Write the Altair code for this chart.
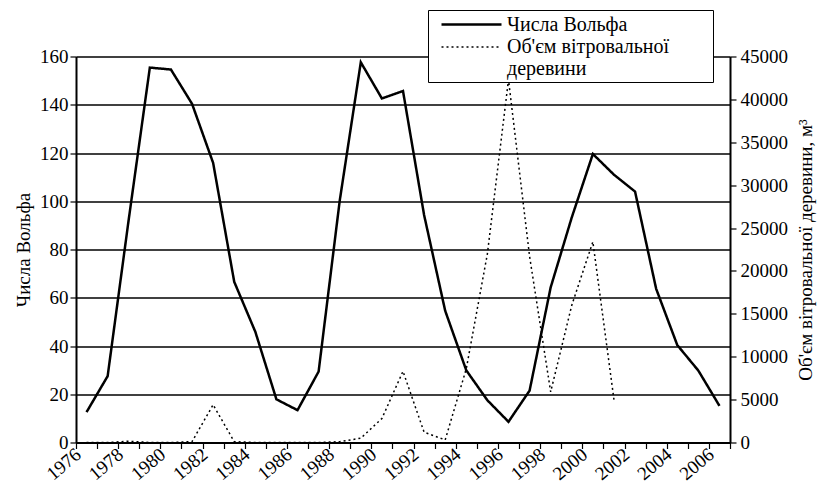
import altair as alt
import pandas as pd

# ---- data ----
years = list(range(1976, 2007))
wolf = [12.6, 27.5, 92.5, 155.4, 154.6, 140.4, 115.9, 66.6, 45.9, 17.9,
        13.4, 29.4, 100.2, 157.6, 142.6, 145.7, 94.3, 54.6, 29.9, 17.5,
        8.6, 21.5, 64.3, 93.3, 119.6, 111.0, 104.0, 63.7, 40.4, 29.8, 15.2]
vol_years = list(range(1976, 2002))
volume = [0, 0, 150, 0, 0, 100, 4400, 100, 0, 0,
          0, 0, 100, 500, 2800, 8300, 1200, 300, 8600, 22000,
          42300, 21700, 5900, 16000, 23400, 5000]
s1 = "Числа Вольфа"
s2 = "Об'єм вітровальної\u2003\u2003\u200b|деревини"
x_ticks = list(range(1976, 2008))
left_ticks = list(range(0, 161, 20))
right_ticks = list(range(0, 45001, 5000))

df = pd.concat([
    pd.DataFrame({"year": years, "value": wolf, "series": s1}),
    pd.DataFrame({"year": vol_years, "value": volume, "series": s2}),
])

font = "Liberation Serif, DejaVu Serif, Noto Serif, FreeSerif, Times New Roman, serif"
fs = 19

legend = alt.Legend(
    title=None, orient="none", legendX=352, legendY=-46.5,
    strokeColor="black", fillColor="white", padding=3,
    symbolType="M-3,0H3", symbolSize=400, symbolStrokeColor="black",
    symbolOffset=29, labelOffset=24, labelFont=font, labelFontSize=20,
    labelColor="black", labelExpr="split(datum.label, '|')", labelLimit=400,
    rowPadding=1,
)

dash = alt.StrokeDash("series:N",
                      scale=alt.Scale(domain=[s1, s2], range=[[1, 0], [2, 3]]),
                      legend=legend)
width = alt.StrokeWidth("series:N",
                        scale=alt.Scale(domain=[s1, s2], range=[2.5, 1.5]),
                        legend=legend)

x = alt.X("xpos:Q",
          scale=alt.Scale(domain=[1976, 2007], nice=False, zero=False),
          axis=alt.Axis(values=x_ticks, title=None, grid=False,
                        labelExpr="datum.value % 2 == 0 && datum.value < 2007 ? datum.value : ''",
                        labelAngle=320, labelAlign="right", labelBaseline="middle",
                        labelPadding=3, labelOffset=2, tickSize=6, domainWidth=2,
                        tickWidth=1.2, labelOverlap=False))

base = alt.Chart(df).transform_calculate(xpos="datum.year + 0.5")

line1 = base.transform_filter(alt.datum.series == s1).mark_line(color="black").encode(
    x=x,
    y=alt.Y("value:Q", scale=alt.Scale(domain=[0, 160], nice=False),
            axis=alt.Axis(values=left_ticks, title=s1, grid=True, gridColor="black",
                          gridWidth=1.3, tickSize=6, labelPadding=2, titlePadding=6,
                          domainWidth=2, tickWidth=1.2)),
    strokeDash=dash, strokeWidth=width,
)

line2 = base.transform_filter(alt.datum.series == s2).mark_line(color="black").encode(
    x=x,
    y=alt.Y("value:Q", scale=alt.Scale(domain=[0, 45000], nice=False),
            axis=alt.Axis(values=right_ticks, orient="right", grid=False,
                          title="Об'єм вітровальної деревини, м³", titleAngle=270,
                          titleBaseline="top", titlePadding=9, tickSize=6,
                          labelPadding=4, domainWidth=2, tickWidth=1.2, format="d")),
    strokeDash=dash, strokeWidth=width,
)

chart = alt.layer(line1, line2).resolve_scale(y="independent").properties(
    width=654, height=386,
    autosize=alt.AutoSizeParams(type="none"),
    padding={"left": 68, "top": 48.5, "right": 88, "bottom": 42.5},
).configure_view(stroke=None).configure_axis(
    labelFont=font, titleFont=font, labelFontSize=fs, titleFontSize=fs,
    labelColor="black", titleColor="black", domainColor="black", tickColor="black",
    titleFontWeight="normal",
)

chart.save("out.html", embed_options={"renderer": "svg", "actions": False})
